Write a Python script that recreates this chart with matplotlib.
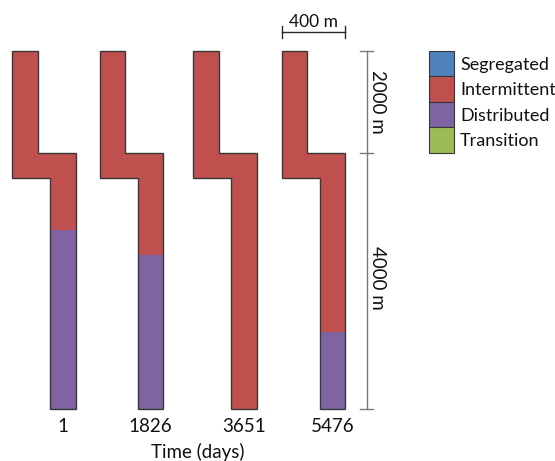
import numpy as np
import matplotlib
matplotlib.use("Agg")
import matplotlib.pyplot as plt
from matplotlib.patches import Polygon, Rectangle

plt.rcParams["font.family"] = ["Lato", "DejaVu Sans"]

# Flow regime along the well at each simulated time
times = [1, 1826, 3651, 5476]
regimes = ["Segregated", "Intermittent", "Distributed", "Transition"]
regime_colors = ["#4F81BD", "#C0504D", "#8064A2", "#9BBB59"]
# depth (m) where intermittent flow gives way to distributed flow; TD means none
intermittent_base = [3200, 3600, 6000, 4800]

# well trajectory (m)
upper_len = 2000
lower_len = 4000
jog_len = 400
pipe_width = 160
step_out = 240
total_depth = upper_len + lower_len

# drawing layout (pixels)
W, H = 555, 461
top_px, kick_px, bottom_px = 50.7, 152.7, 408.7
well_left_px = [12.3, 100.0, 193.3, 281.7]
px_per_m = 63.3 / 400.0


def depth_to_y(d):
    return np.interp(d, [0, upper_len, total_depth], [top_px, kick_px, bottom_px])


fig = plt.figure(figsize=(W / 100, H / 100), dpi=100)
ax = fig.add_axes([0, 0, 1, 1])
ax.set_xlim(0, W)
ax.set_ylim(H, 0)
ax.axis("off")

edge = "#383838"
txt = "#111111"
fs = 13.5
y_kick = depth_to_y(upper_len)
y_jog = depth_to_y(upper_len + jog_len)
y_td = depth_to_y(total_depth)
y_top = depth_to_y(0)
w = pipe_width * px_per_m
off = step_out * px_per_m

for x0, t, base in zip(well_left_px, times, intermittent_base):
    verts = [
        (x0, y_top), (x0 + w, y_top), (x0 + w, y_kick),
        (x0 + off + w, y_kick), (x0 + off + w, y_td), (x0 + off, y_td),
        (x0 + off, y_jog), (x0, y_jog),
    ]
    well = Polygon(verts, closed=True, facecolor=regime_colors[1],
                   edgecolor="none", zorder=1)
    ax.add_patch(well)
    if base < total_depth:
        yb = depth_to_y(base)
        dist = Rectangle((x0, yb), off + w, y_td - yb,
                         facecolor=regime_colors[2], edgecolor="none", zorder=2)
        ax.add_patch(dist)
        dist.set_clip_path(well)
    ax.add_patch(Polygon(verts, closed=True, facecolor="none",
                         edgecolor=edge, linewidth=1.0, zorder=3))
    ax.text(x0 + off + w / 2, 431.5, str(t), ha="center", va="baseline",
            fontsize=fs, color=txt)

ax.text(198, 458, "Time (days)", ha="center", va="baseline",
        fontsize=fs, color=txt)

# horizontal scale bar over the last well
x_last = well_left_px[-1]
x_end = x_last + (step_out + pipe_width) * px_per_m
ax.plot([x_last, x_end], [32, 32], color="#2a2a2a", lw=1.0)
for xx in (x_last, x_end):
    ax.plot([xx, xx], [26, 38], color="#2a2a2a", lw=1.0)
ax.text((x_last + x_end) / 2, 26.7, "400 m", ha="center", va="baseline",
        fontsize=fs - 1, color=txt)

# vertical depth scale bar
xs = 366.5
bar_color = "#7a7a7a"
ax.plot([xs, xs], [y_top, y_td], color=bar_color, lw=1.0)
for yy in (y_top, y_kick, y_td):
    ax.plot([xs - 6.5, xs + 6.5], [yy, yy], color=bar_color, lw=1.0)
ax.text(378, (y_top + y_kick) / 2, f"{upper_len} m", rotation=-90,
        ha="center", va="center", fontsize=fs, color=txt)
ax.text(378, (y_kick + y_td) / 2 - 3, f"{lower_len} m", rotation=-90,
        ha="center", va="center", fontsize=fs, color=txt)

# legend
lx, ly, lh = 429, 50.7, 25.5
for j, (name, c) in enumerate(zip(regimes, regime_colors)):
    ax.add_patch(Rectangle((lx, ly + j * lh), 25, lh, facecolor=c,
                           edgecolor=edge, linewidth=0.8))
    ax.text(lx + 31, ly + j * lh + lh / 2 + 6.3, name, ha="left",
            va="baseline", fontsize=fs - 0.5, color=txt)

fig.savefig("out.png", dpi=100)
